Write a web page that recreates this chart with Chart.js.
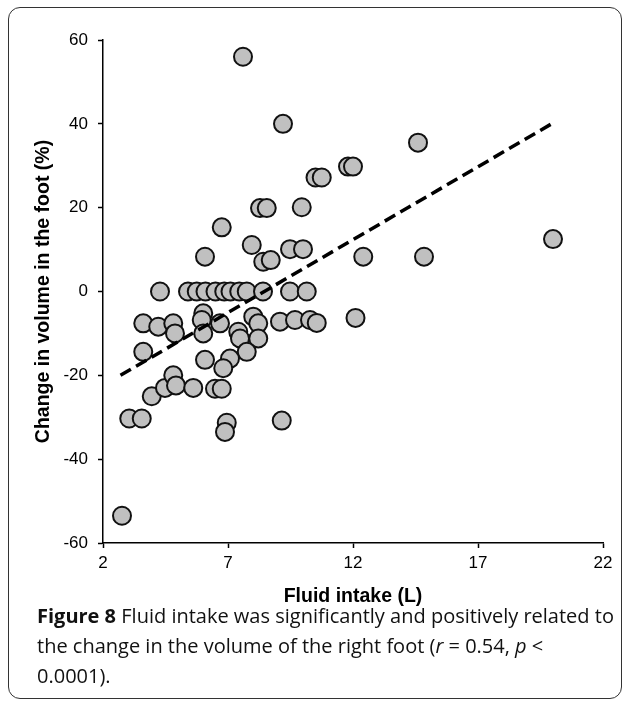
<!DOCTYPE html>
<html>
<head>
<meta charset="utf-8">
<script src="https://cdn.jsdelivr.net/npm/chart.js@4.4.0/dist/chart.umd.min.js"></script>
<style>
  body { margin: 0; background: #fff; }
  #frame { position: absolute; left: 8px; top: 7px; width: 614px; height: 692px; border: 1px solid #333; border-radius: 12px; box-sizing: border-box; }
  #myChart_foot { position: absolute; left: 0; top: 0; }
  #caption { position: absolute; left: 37px; top: 601px; width: 580px; font-family: "Open Sans", sans-serif; font-size: 20px; line-height: 30px; color: #111; white-space: nowrap; }
</style>
</head>
<body>
<div id="frame"></div>
<canvas id="myChart_foot" width="627" height="620"></canvas>
<div id="caption">
  <b>Figure 8</b> Fluid intake was significantly and positively related to<br>
  the change in the volume of the right foot (<i>r</i> = 0.54, <i>p</i> &lt;<br>
  0.0001).
</div>
<script>
// fluid intake (L) and change in foot volume (%), one entry per subject
var fluidIntake = [
  7.6, 9.2, 14.6, 11.8, 12.0, 10.5, 10.75, 8.28, 8.55, 9.95,
  6.75, 7.95, 9.48, 10.0, 8.41, 8.71, 6.08, 12.41, 14.84, 20.0,
  4.28, 5.4, 5.75, 6.1, 6.5, 6.85, 7.1, 7.45, 7.75, 8.4, 9.48, 10.15,
  3.61, 4.21, 4.81, 4.88, 6.01, 5.95, 6.01, 6.68, 7.41, 7.48,
  8.01, 8.21, 8.21, 9.08, 9.68, 10.28, 10.55, 12.1,
  3.61, 7.75, 7.08, 6.08, 6.81,
  3.95, 4.48, 4.81, 4.92, 5.61, 6.48, 6.75,
  3.05, 3.55, 6.95, 6.88, 9.15, 2.76
];
var volumeChange = [
  56, 40, 35.5, 29.8, 29.8, 27.2, 27.2, 19.9, 19.9, 20.1,
  15.3, 11.1, 10.1, 10.1, 7.1, 7.5, 8.3, 8.3, 8.3, 12.5,
  0, 0, 0, 0, 0, 0, 0, 0, 0, 0, 0, 0,
  -7.6, -8.4, -7.6, -10, -5.2, -6.8, -10, -7.6, -9.6, -11.2,
  -6, -7.6, -11.2, -7.2, -6.8, -6.8, -7.5, -6.3,
  -14.4, -14.4, -16, -16.3, -18.3,
  -25, -23, -20, -22.4, -23, -23.2, -23.2,
  -30.3, -30.3, -31.3, -33.5, -30.8, -53.5
];
// regression line end points
var trendX = [2.7, 20];
var trendY = [-20, 40.2];

var xTicks = [2, 7, 12, 17, 22];
var yTicks = [-60, -40, -20, 0, 20, 40, 60];

var points = fluidIntake.map(function(v, i) { return { x: v, y: volumeChange[i] }; });
var trend = trendX.map(function(v, i) { return { x: v, y: trendY[i] }; });

var tickFont = { family: "'Liberation Sans', Arial", size: 17 };
var titleFont = { family: "'Liberation Sans', Arial", size: 19.5, weight: 'bold' };

var ctx = document.getElementById("myChart_foot");
var myChart = new Chart(ctx, {
    type: 'scatter',
    data: {
        datasets: [{
            type: 'line',
            data: trend,
            borderColor: '#000',
            borderWidth: 3.5,
            borderDash: [12, 6],
            pointRadius: 0,
            fill: false,
            order: 0
        }, {
            data: points,
            pointRadius: 9,
            pointHoverRadius: 9,
            pointBackgroundColor: '#c0c0c0',
            pointBorderColor: '#111',
            pointBorderWidth: 2,
            order: 1
        }]
    },
    options: {
        responsive: false,
        animation: false,
        layout: { padding: { left: 0, right: 24, top: 40, bottom: 0 } },
        plugins: { legend: { display: false }, tooltip: { enabled: false } },
        scales: {
            x: {
                type: 'linear',
                min: 2,
                max: 22,
                afterBuildTicks: function(scale) {
                    scale.ticks = xTicks.map(function(v) { return { value: v }; });
                },
                afterFit: function(scale) { scale.height = 77; },
                grid: { drawOnChartArea: false, drawTicks: true, tickLength: 5, tickWidth: 1.5, tickColor: '#000' },
                border: { display: true, color: '#000', width: 1.5 },
                ticks: { color: '#000', font: tickFont, padding: 5, maxRotation: 0 },
                title: { display: true, text: 'Fluid intake (L)', color: '#000', font: titleFont, padding: { top: 0, bottom: 12 } }
            },
            y: {
                min: -60,
                max: 60,
                afterBuildTicks: function(scale) {
                    scale.ticks = yTicks.map(function(v) { return { value: v }; });
                },
                afterFit: function(scale) { scale.width = 103; },
                grid: { drawOnChartArea: false, drawTicks: true, tickLength: 5, tickWidth: 1.5, tickColor: '#000' },
                border: { display: true, color: '#000', width: 1.5 },
                ticks: { color: '#000', font: tickFont, padding: 10 },
                title: { display: true, text: 'Change in volume in the foot (%)', color: '#000', font: titleFont, padding: { top: 32, bottom: 0 } }
            }
        }
    }
});
</script>
</body>
</html>
